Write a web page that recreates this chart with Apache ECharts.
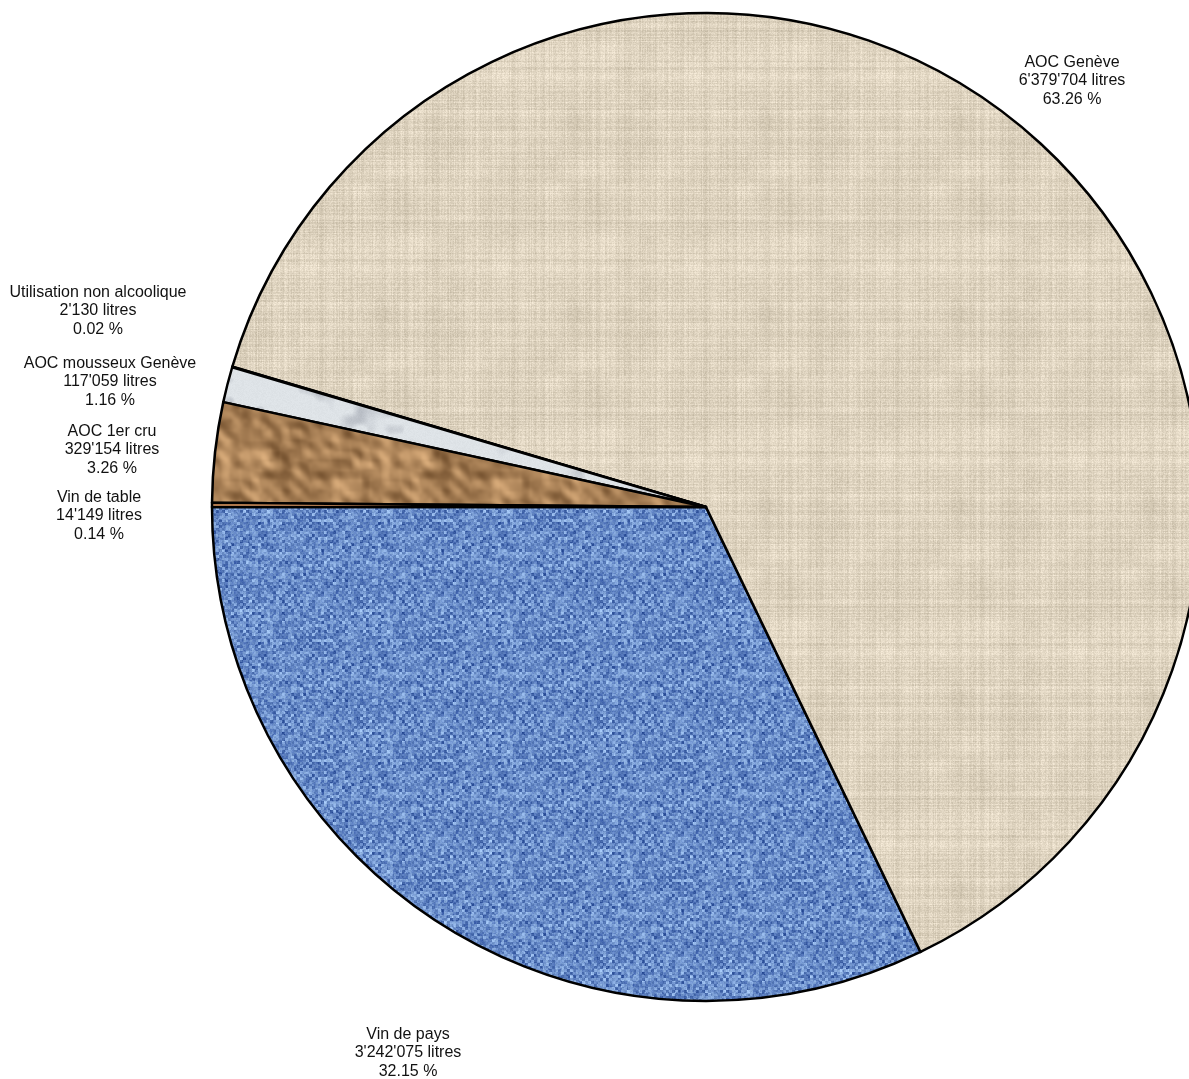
<!DOCTYPE html>
<html>
<head>
<meta charset="utf-8">
<script src="https://cdn.jsdelivr.net/npm/echarts@6/dist/echarts.min.js"></script>
<style>
html,body{margin:0;padding:0;background:#fff;}
#chart{width:1189px;height:1079px;}
</style>
</head>
<body>
<div id="chart"></div>
<script>
// ---- data ----
const categories = ['Vin de pays', 'AOC Genève', 'Utilisation non alcoolique', 'AOC mousseux Genève', 'AOC 1er cru', 'Vin de table'];
const litres = [3242075, 6379704, 2130, 117059, 329154, 14149];

// ---- label placement (style) ----
const labelPos = [[408, 1053], [1072, 81], [98, 311], [110, 382], [112, 450], [99, 516]];

// ---- deterministic texture helpers ----
function hsh(x, y, s) {
  const v = Math.sin(x * 12.9898 + y * 78.233 + s * 37.719) * 43758.5453;
  return v - Math.floor(v);
}
// periodic value noise (period = cells)
function smooth(x, y, scale, s, cells) {
  const gx = x / scale, gy = y / scale;
  const x0 = Math.floor(gx), y0 = Math.floor(gy);
  const fx = gx - x0, fy = gy - y0;
  const ux = fx * fx * (3 - 2 * fx), uy = fy * fy * (3 - 2 * fy);
  const m = v => ((v % cells) + cells) % cells;
  const a = hsh(m(x0), m(y0), s), b = hsh(m(x0 + 1), m(y0), s), c = hsh(m(x0), m(y0 + 1), s), d = hsh(m(x0 + 1), m(y0 + 1), s);
  return a + (b - a) * ux + (c - a) * uy + (a - b - c + d) * ux * uy;
}
function makeTex(size, fn) {
  const cv = document.createElement('canvas');
  cv.width = size; cv.height = size;
  const ctx = cv.getContext('2d');
  const img = ctx.createImageData(size, size);
  for (let y = 0; y < size; y++) {
    for (let x = 0; x < size; x++) {
      const c = fn(x, y);
      const i = (y * size + x) * 4;
      img.data[i] = Math.max(0, Math.min(255, c[0]));
      img.data[i + 1] = Math.max(0, Math.min(255, c[1]));
      img.data[i + 2] = Math.max(0, Math.min(255, c[2]));
      img.data[i + 3] = 255;
    }
  }
  ctx.putImageData(img, 0, 0);
  return cv;
}
// beige linen
const LS = 192;
const linen = makeTex(LS, (x, y) => {
  const v = (hsh(0, y, 1) - 0.5) * 18 + (hsh(x, 0, 2) - 0.5) * 18 + (hsh(x, y, 3) - 0.5) * 20
    + (smooth(x, y, 24, 4, LS / 24) - 0.5) * 12;
  return [221 + v, 210 + v, 190 + v * 1.05];
});
// blue fabric
const BS = 120;
const blueTex = makeTex(BS, (x, y) => {
  const n = hsh(Math.floor(x / 3), Math.floor(y / 3), 5) * 0.55 + hsh(Math.floor(x / 2), Math.floor(y / 2), 6) * 0.3 + hsh(x, y, 13) * 0.15;
  const w = ((Math.floor(x / 3) + Math.floor(y / 3)) % 2) ? 10 : -10;
  const t = (n - 0.5) * 2.4;
  return [105 + t * 55 + w, 140 + t * 55 + w, 200 + t * 40 + w];
});
// brown crumpled paper
const RS = 160;
const brownTex = makeTex(RS, (x, y) => {
  const n1 = smooth(x, y, 20, 7, RS / 20), n2 = smooth(x, y, 10, 8, RS / 10), n3 = smooth(x, y, 5, 9, RS / 5);
  const nx = smooth(x + 1, y, 10, 8, RS / 10) - smooth(x - 1, y, 10, 8, RS / 10);
  const ny = smooth(x, y + 1, 10, 8, RS / 10) - smooth(x, y - 1, 10, 8, RS / 10);
  const shade = (nx - ny) * 130;
  const t = (n1 - 0.5) * 40 + (n2 - 0.5) * 20 + (n3 - 0.5) * 10 + shade;
  return [166 + t, 126 + t * 0.9, 84 + t * 0.75];
});
// grey marble
const MS = 160;
const marble = makeTex(MS, (x, y) => {
  const n = smooth(x, y, 32, 10, MS / 32) * 0.6 + smooth(x, y, 10, 11, MS / 10) * 0.4;
  const t = n > 0.58 ? -(n - 0.58) * 160 : 0;
  const f = (hsh(x, y, 12) - 0.5) * 6;
  return [222 + t + f, 227 + t + f, 231 + t * 0.9 + f];
});

const fills = [
  { image: blueTex, repeat: 'repeat' },
  { image: linen, repeat: 'repeat' },
  '#f2f2f2',
  { image: marble, repeat: 'repeat' },
  { image: brownTex, repeat: 'repeat' },
  '#e9a066'
];

const total = litres.reduce((a, b) => a + b, 0);
function fmt(n) { return String(n).replace(/\B(?=(\d{3})+(?!\d))/g, "'"); }

const chart = echarts.init(document.getElementById('chart'), null, { renderer: 'canvas' });
chart.setOption({
  backgroundColor: '#ffffff',
  animation: false,
  series: [{
    type: 'pie',
    center: [706, 507],
    radius: [0, 494],
    startAngle: 180,
    clockwise: false,
    avoidLabelOverlap: false,
    minAngle: 0,
    data: categories.map((c, i) => ({ name: c, value: litres[i], itemStyle: { color: fills[i] } })),
    itemStyle: { borderColor: '#000', borderWidth: 2.5 },
    label: {
      show: true,
      position: 'outside',
      fontFamily: 'Liberation Sans, Arial, sans-serif',
      fontSize: 16,
      lineHeight: 18.5,
      color: '#111',
      align: 'center',
      formatter: p => p.name + '\n' + fmt(p.value) + ' litres\n' + (p.value / total * 100).toFixed(2) + ' %'
    },
    labelLine: { show: false },
    labelLayout: p => ({ x: labelPos[p.dataIndex][0], y: labelPos[p.dataIndex][1], align: 'center', verticalAlign: 'middle' }),
    emphasis: { disabled: true }
  }]
});
</script>
</body>
</html>
